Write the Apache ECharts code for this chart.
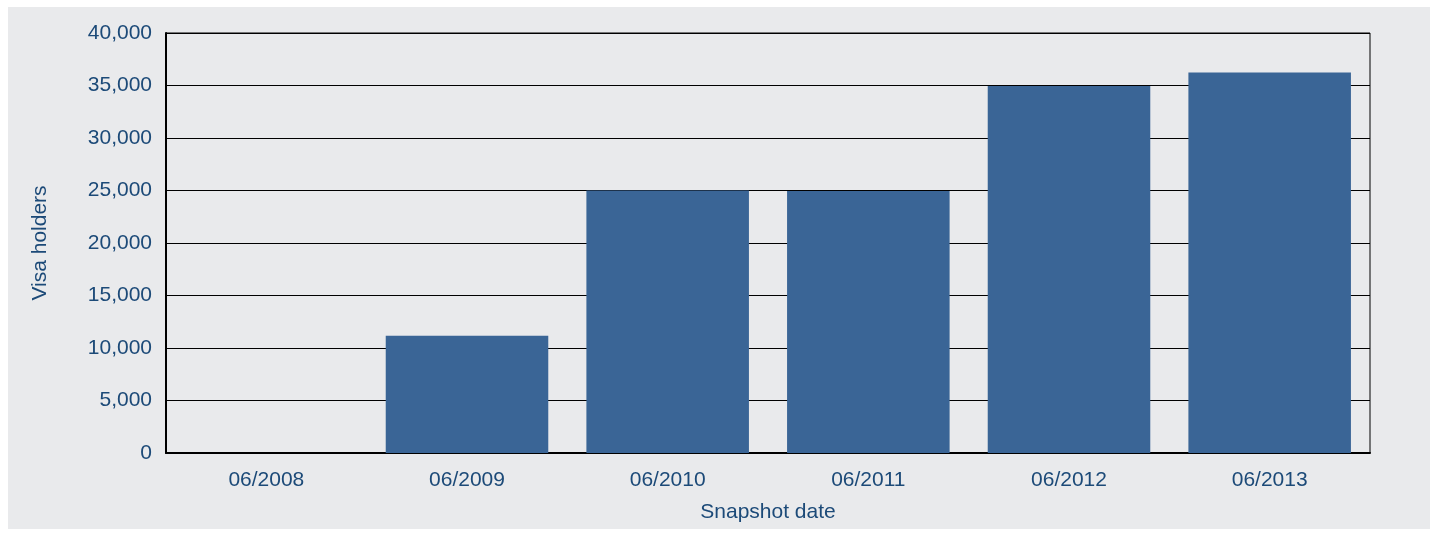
<!DOCTYPE html>
<html>
<head>
<meta charset="utf-8">
<title>Visa holders</title>
<script src="https://cdn.jsdelivr.net/npm/echarts@6/dist/echarts.min.js"></script>
<style>
    html, body { margin: 0; padding: 0; background: #ffffff; }
    #chart { position: absolute; left: 8px; top: 7px; width: 1422px; height: 522px; }
</style>
</head>
<body>
<div id="chart"></div>
<script>
    // snapshot dates and visa holder counts
    let dates = ['06/2008', '06/2009', '06/2010', '06/2011', '06/2012', '06/2013']
    let holders = [0, 11170, 25000, 24950, 34950, 36240]
    let yTicks = [0, 5000, 10000, 15000, 20000, 25000, 30000, 35000, 40000]

    let textColor = '#1c4a78'
    let barColor = '#3a6596'
    let font = 'Liberation Sans, Arial, sans-serif'

    let chart = echarts.init(document.getElementById('chart'))
    let option = {
        backgroundColor: '#e9eaec',
        animation: false,
        grid: {
            left: 158,
            right: 60,
            top: 26,
            bottom: 76,
            show: true,
            borderColor: '#000',
            borderWidth: 1
        },
        xAxis: {
            type: 'category',
            data: dates,
            name: 'Snapshot date',
            nameLocation: 'middle',
            nameGap: 49,
            nameTextStyle: { color: textColor, fontSize: 21, fontFamily: font },
            axisLine: { show: true, lineStyle: { color: '#000', width: 2 } },
            axisTick: { show: false },
            axisLabel: { color: textColor, fontSize: 21, fontFamily: font, margin: 17 }
        },
        yAxis: {
            type: 'value',
            min: yTicks[0],
            max: yTicks[yTicks.length - 1],
            interval: 5000,
            name: 'Visa holders',
            nameLocation: 'middle',
            nameGap: 115,
            nameTextStyle: { color: textColor, fontSize: 21, fontFamily: font },
            axisLine: { show: true, lineStyle: { color: '#000', width: 2 } },
            axisTick: { show: true, inside: true, length: 3, lineStyle: { color: '#000' } },
            splitLine: { show: true, lineStyle: { color: '#000', width: 1 } },
            axisLabel: {
                color: textColor, fontSize: 21, fontFamily: font, margin: 14,
                formatter: function (v) { return v.toLocaleString('en-US') }
            }
        },
        series: [{
            type: 'bar',
            data: holders,
            barCategoryGap: '19%',
            itemStyle: { color: barColor }
        }]
    }
    chart.setOption(option)
    window.addEventListener('resize', function () {
        chart.resize()
    })
</script>
</body>
</html>
